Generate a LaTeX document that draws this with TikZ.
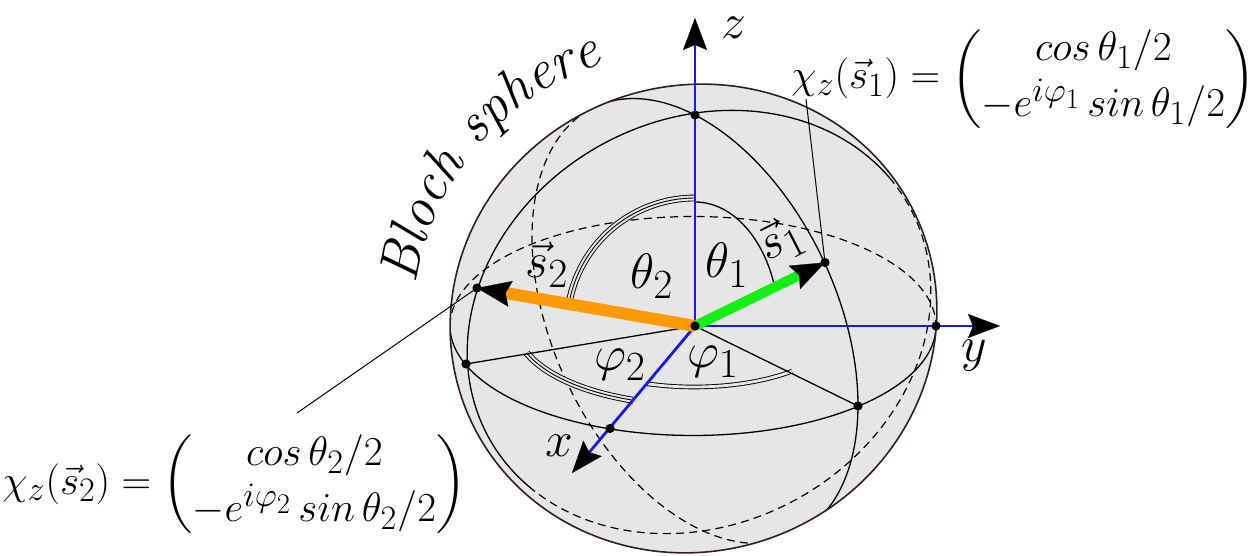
\documentclass[tikz,border=0pt]{standalone}
\usepackage{amsmath}
\usetikzlibrary{arrows.meta,decorations.text}
\definecolor{spheregray}{RGB}{230,230,230}
\definecolor{outl}{RGB}{50,30,30}
\definecolor{axblue}{RGB}{25,25,235}
\definecolor{vgreen}{RGB}{20,240,20}
\definecolor{vorange}{RGB}{255,155,0}
\def\outlinepath{plot[domain=0:360,samples=181,variable=\q] ({693.5+228.0*cos(\q)+85.2*sin(\q)},{318.5-89.8*cos(\q)+216.5*sin(\q)}) -- cycle}
\begin{document}
\begin{tikzpicture}[x=0.5pt,y=-0.5pt,line join=round,
  frontline/.style={line width=0.65pt},
  backline/.style={line width=0.6pt, dash pattern=on 4pt off 2.6pt},
  axisline/.style={axblue, line width=1.4pt, -{Stealth[length=16pt,width=12pt,inset=2.5pt,color=black,line width=0.1pt]}},
  vecline/.style={line cap=butt,-{Stealth[length=17pt,width=13pt,inset=2.5pt,color=black,line width=0.1pt]}},
  triple/.style={line width=0.45pt, preaction={draw=black,line width=3.4pt}, preaction={draw=spheregray,line width=2.5pt}},
  dbl/.style={line width=0.45pt, double=spheregray, double distance=1.4pt},
  lab/.style={inner sep=0pt, font=\fontsize{24.88}{30}\selectfont},
  fml/.style={inner sep=0pt, anchor=base west, font=\fontsize{24.88}{30}\selectfont}
]
\useasboundingbox (0,0) rectangle (1259,556);
% named points
\coordinate (O) at (695,326);
\coordinate (N) at (695,115);
\coordinate (Xd) at (610,428.5);
\coordinate (Yd) at (936,326);
\coordinate (E1) at (858,406);
\coordinate (E2) at (466,364);
\coordinate (S1) at (825,262.5);
\coordinate (S2) at (477,288);
\coordinate (Zt) at (695,18);
\coordinate (Yt) at (1000,326);
\coordinate (Xt) at (572,473);
\coordinate (L1) at (806,99);
\coordinate (L2) at (297,413);
% sphere
\fill[spheregray] \outlinepath;
\begin{scope}
\clip \outlinepath;
\draw[backline] plot[domain=180:360,samples=90,variable=\q] ({693+243*cos(\q)},{326+109.5*sin(\q)});
\draw[backline] plot[domain=151:329,samples=90,variable=\q] ({695+163*sin(\q)},{321-206*cos(\q)+84*sin(\q)});
\draw[backline] plot[domain=-10:161,samples=90,variable=\q] ({699+210.3*cos(\q)+97.5*sin(\q)},{322-115.6*cos(\q)+177.3*sin(\q)});
\draw[frontline] plot[domain=0:180,samples=90,variable=\q] ({693+243*cos(\q)},{326+109.5*sin(\q)});
\draw[frontline] plot[domain=-31:151,samples=90,variable=\q] ({695+163*sin(\q)},{321-206*cos(\q)+84*sin(\q)});
\draw[frontline] plot[domain=-199:-10,samples=90,variable=\q] ({699+210.3*cos(\q)+97.5*sin(\q)},{322-115.6*cos(\q)+177.3*sin(\q)});
\end{scope}
\draw[outl,line width=0.8pt] \outlinepath;
% angle arcs
\draw[triple] plot[domain=90:170,samples=50,variable=\q] ({695+128*cos(\q)},{326-128*sin(\q)});
\draw[frontline] plot[domain=90:18.7,samples=50,variable=\q] ({695+84*cos(\q)},{326-124*sin(\q)});
\draw[triple] plot[domain=110:160,samples=40,variable=\q] ({694+178*cos(\q)},{326+79*sin(\q)});
\draw[dbl] plot[domain=47.8:108.8,samples=40,variable=\q] ({694+146*cos(\q)},{326+61*sin(\q)});
\draw[frontline] (O) -- (E1);
\draw[frontline] (O) -- (E2);
\draw[axisline] (O) -- (Zt);
\draw[axisline] (O) -- (Yt);
\draw[axisline] (O) -- (Xt);
\draw[vecline,vorange,line width=6pt] (O) -- (S2);
\draw[vecline,vgreen,line width=5pt] (O) -- (S1);
\draw[line width=0.5pt] (L1) -- (S1);
\draw[line width=0.5pt] (L2) -- (S2);
\foreach \p in {O,N,Xd,Yd,E1,E2,S1,S2} \fill (\p) circle[radius=2.3pt];
% labels
\node[lab] (lz) at (734,28) {$z$};
\node[lab] (ly) at (974,356) {$y$};
\node[lab] (lx) at (559,446) {$x$};
\node[lab] (lt2) at (652,276) {$\theta_2$};
\node[lab] (lt1) at (727,265) {$\theta_1$};
\node[lab] (lp2) at (620,365) {$\varphi_2$};
\node[lab] (lp1) at (713,362) {$\varphi_1$};
\node[lab] (ls2) at (547,265) {$\vec{s}_2$};
\node[lab,rotate=27] (ls1) at (781,240) {$\vec{s}_1$};
\path[decorate,decoration={text along path,text align=center,text={|\fontsize{28}{32}\selectfont\itshape|Bloch sphere}}]
  plot[domain=0:1,samples=60,variable=\q] ({693.5+279*cos(178-74*\q)},{318.5-270*sin(178-74*\q)});
% formulas
\node[fml] (F1) at (791,89) {\resizebox{232pt}{!}{$\chi_z(\vec{s}_1)=\biggl(\begin{matrix}cos\,\theta_1/2\\[2.5pt] -e^{i\varphi_1}\,sin\,\theta_1/2\end{matrix}\biggr)$}};
\node[fml] (F2) at (2,494) {\resizebox{232pt}{!}{$\chi_z(\vec{s}_2)=\biggl(\begin{matrix}cos\,\theta_2/2\\[2.5pt] -e^{i\varphi_2}\,sin\,\theta_2/2\end{matrix}\biggr)$}};
\end{tikzpicture}
\end{document}
